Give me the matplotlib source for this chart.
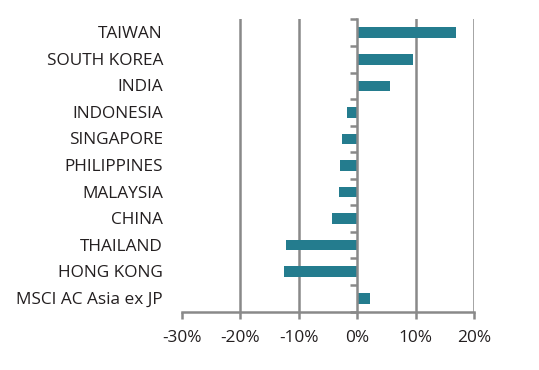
import matplotlib
matplotlib.use("Agg")
import matplotlib.pyplot as plt
import matplotlib.transforms as mtransforms

categories = ["TAIWAN", "SOUTH KOREA", "INDIA", "INDONESIA", "SINGAPORE",
              "PHILIPPINES", "MALAYSIA", "CHINA", "THAILAND", "HONG KONG",
              "MSCI AC Asia ex JP"]
values = [17.0, 9.5, 5.7, -1.7, -2.6, -2.9, -3.2, -4.3, -12.2, -12.5, 2.2]
xticks = [-30, -20, -10, 0, 10, 20]
xticklabels = ["-30%", "-20%", "-10%", "0%", "10%", "20%"]

plt.rcParams['font.family'] = ['Open Sans', 'DejaVu Sans']
text_color = "#231f20"
grid_color = "#898989"
bar_color = "#247c8e"
fs = 12.4

fig = plt.figure(figsize=(5.39, 3.70), dpi=100)
ax = fig.add_axes([182/539, 1-311.5/370, 292/539, 292/370])

n = len(categories)
ypos = list(range(n))
ax.barh(ypos, values, height=0.4, color=bar_color, zorder=3)
ax.set_ylim(n - 0.5, -0.5)
ax.set_xlim(-30, 20)

for xv in xticks:
    if xv not in (-30, 0):
        ax.axvline(xv, color=grid_color, lw=1.8, zorder=1)

for s in ["top", "right"]:
    ax.spines[s].set_visible(False)
ax.spines["left"].set_position(("data", 0))
ax.spines["left"].set_color(grid_color)
ax.spines["left"].set_linewidth(1.8)
ax.spines["left"].set_zorder(4)
ax.spines["bottom"].set_color(grid_color)
ax.spines["bottom"].set_linewidth(1.8)

ax.set_yticks([i - 0.5 for i in range(n + 1)])
ax.set_yticklabels([])
ax.tick_params(axis="y", length=5, width=1.8, color=grid_color, direction="out")

ax.set_xticks(xticks)
ax.set_xticklabels(xticklabels)
ax.tick_params(axis="x", length=5, width=1.8, color=grid_color, direction="out",
               labelsize=fs, labelcolor=text_color, pad=8)

trans = mtransforms.blended_transform_factory(ax.transAxes, ax.transData)
trans = trans + mtransforms.ScaledTranslation(0, -1.5/100, fig.dpi_scale_trans)
for i, c in enumerate(categories):
    ax.text(-19/292, i, c, transform=trans, ha="right", va="center",
            fontsize=fs, color=text_color)

fig.savefig("out.png", dpi=100)
